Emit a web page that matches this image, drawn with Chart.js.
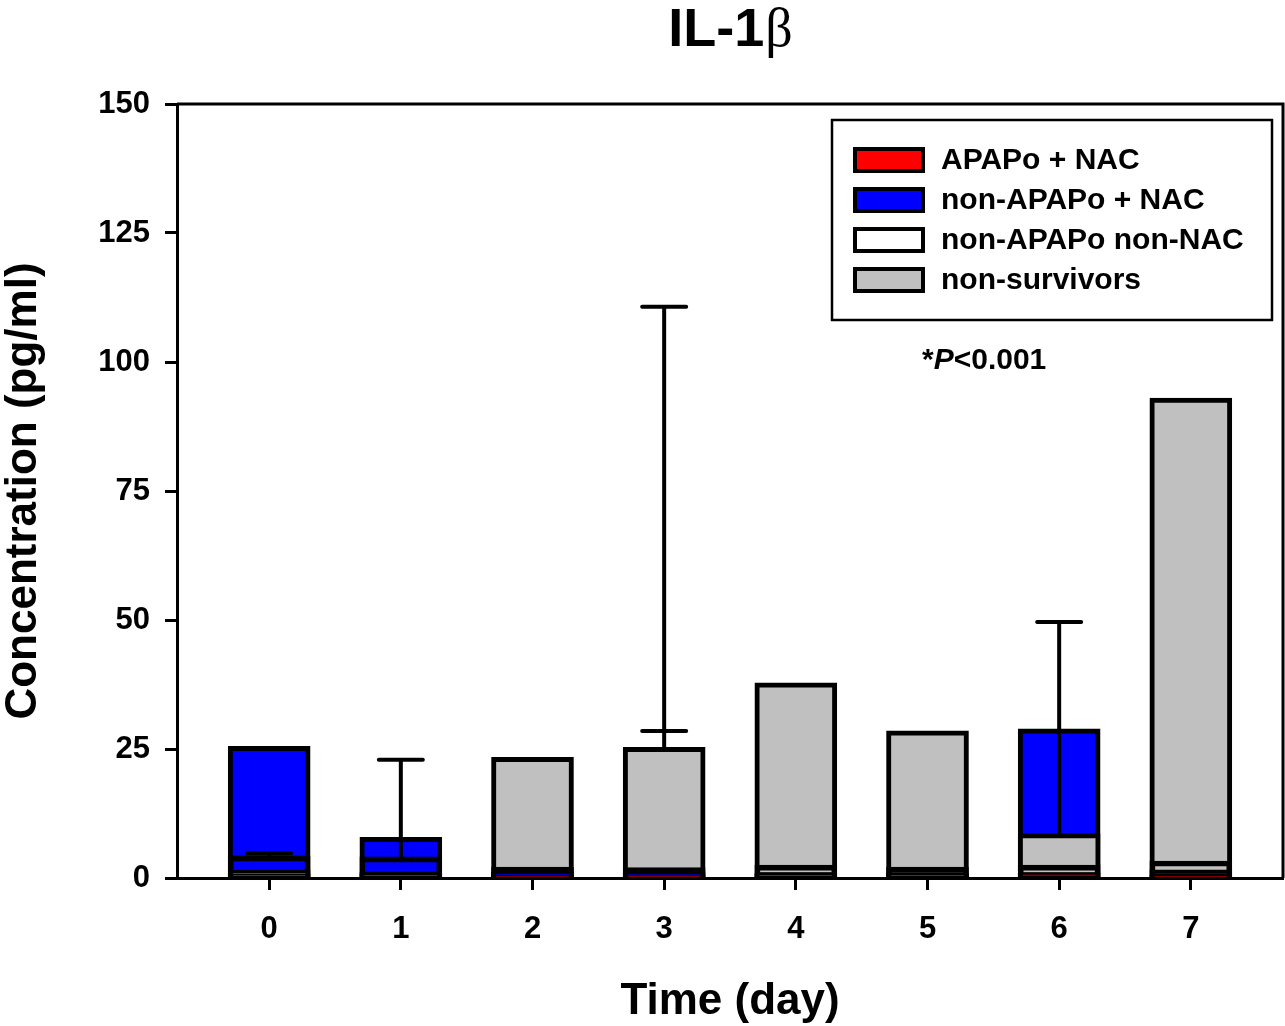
<!DOCTYPE html>
<html>
<head>
<meta charset="utf-8">
<script src="https://cdn.jsdelivr.net/npm/chart.js@4.4.1/dist/chart.umd.min.js"></script>
<style>
  html, body { margin: 0; padding: 0; background: #fff; }
  canvas { display: block; }
</style>
</head>
<body>
<canvas id="chart" width="1285" height="1026"></canvas>
<script>
// data
const days = [0, 1, 2, 3, 4, 5, 6, 7];
const apapNac = [0.8, 0.8, 0.5, 0.6, 0.8, 0.8, 1.0, 0.5];
const nonApapNac = [25.5, 7.9, 1.2, 1.2, 1.0, 1.0, 28.9, 1.6];
const nonApapNonNac = [4.3, 4.1, 2.1, 2.0, 2.5, 2.1, 2.5, 3.3];
const nonSurvivors = [1.5, 1.2, 23.4, 25.3, 37.8, 28.5, 8.6, 93.0];

// upper ends of the error bars (null = none)
const apapNacErr = [null, null, null, null, null, null, null, null];
const nonApapNacErr = [null, null, null, null, null, null, null, null];
const nonApapNonNacErr = [4.8, 22.9, null, null, null, null, null, null];
const nonSurvivorsErr = [null, null, null, [28.5, 110.7], null, null, 49.6, null];

const yTicks = [0, 25, 50, 75, 100, 125, 150];

const FONT = '"Liberation Sans", Arial, Helvetica, sans-serif';

const series = [
  {label: 'APAPo + NAC', values: apapNac, err: apapNacErr, fill: '#ff0000', swatch: '#ff0000'},
  {label: 'non-APAPo + NAC', values: nonApapNac, err: nonApapNacErr, fill: '#0000ff', swatch: '#0000ff'},
  {label: 'non-APAPo non-NAC', values: nonApapNonNac, err: nonApapNonNacErr, fill: 'rgba(255,255,255,0)', swatch: '#ffffff'},
  {label: 'non-survivors', values: nonSurvivors, err: nonSurvivorsErr, fill: '#c0c0c0', swatch: '#c0c0c0'}
];

// overlapping bars: per day the tallest goes in the back
const ranks = days.map((d, i) =>
  series.map((s, k) => k).sort((a, b) => series[b].values[i] - series[a].values[i]));

const layers = series.map((_, layer) => ({
  label: 'layer' + layer,
  order: series.length - 1 - layer,
  data: days.map((d, i) => ({x: d, y: series[ranks[i][layer]].values[i]})),
  backgroundColor: days.map((d, i) => series[ranks[i][layer]].fill),
  errTops: days.map((d, i) => series[ranks[i][layer]].err[i]),
  borderColor: '#000',
  borderWidth: 5,
  borderSkipped: false,
  grouped: false,
  barThickness: 82
}));

// error bars, drawn right after each layer
const errorBars = {
  id: 'errorBars',
  afterDatasetDraw(chart, args) {
    const ds = chart.data.datasets[args.index];
    const yScale = chart.scales.y;
    const ctx = chart.ctx;
    ctx.save();
    ctx.strokeStyle = '#000';
    ctx.lineWidth = 4;
    ctx.lineCap = 'round';
    args.meta.data.forEach((bar, i) => {
      const tops = ds.errTops[i];
      if (tops == null) return;
      const list = [].concat(tops);
      const yEnd = yScale.getPixelForValue(Math.max(...list));
      ctx.beginPath();
      ctx.moveTo(bar.x, bar.y);
      ctx.lineTo(bar.x, yEnd);
      list.forEach(v => {
        const yc = yScale.getPixelForValue(v);
        ctx.moveTo(bar.x - 22, yc);
        ctx.lineTo(bar.x + 22, yc);
      });
      ctx.stroke();
    });
    ctx.restore();
  }
};

// frame, title, legend box and note
const decorations = {
  id: 'decorations',
  afterDraw(chart) {
    const ctx = chart.ctx;
    const ca = chart.chartArea;
    ctx.save();
    ctx.strokeStyle = '#000';
    ctx.lineWidth = 3;
    ctx.beginPath();
    ctx.moveTo(ca.left, ca.top);
    ctx.lineTo(ca.right, ca.top);
    ctx.lineTo(ca.right, ca.bottom);
    ctx.stroke();

    // title
    const cx = (ca.left + ca.right) / 2;
    ctx.fillStyle = '#000';
    ctx.textBaseline = 'alphabetic';
    ctx.font = 'bold 54px ' + FONT;
    const t1 = 'IL-1';
    const w1 = ctx.measureText(t1).width;
    ctx.font = '54px "Liberation Serif", "Times New Roman", serif';
    const w2 = ctx.measureText('\u03B2').width;
    let x0 = cx - (w1 + w2) / 2;
    ctx.font = 'bold 54px ' + FONT;
    ctx.textAlign = 'left';
    ctx.fillText(t1, x0, 46);
    ctx.font = '54px "Liberation Serif", "Times New Roman", serif';
    ctx.fillText('\u03B2', x0 + w1 + 1, 46);

    // legend
    const bx = ca.right - 451, by = ca.top + 16;
    ctx.lineWidth = 2.5;
    ctx.strokeRect(bx, by, 440, 200);
    ctx.font = 'bold 30px ' + FONT;
    ctx.textBaseline = 'middle';
    series.forEach((s, k) => {
      const ry = by + 40 + k * 40;
      ctx.fillStyle = s.swatch;
      ctx.lineWidth = 4;
      ctx.beginPath();
      ctx.rect(bx + 23, ry - 11, 68, 22);
      ctx.fill();
      ctx.stroke();
      ctx.fillStyle = '#000';
      ctx.fillText(s.label, bx + 109, ry + 1);
    });

    // p-value note
    let nx = bx + 90;
    const ny = ca.top + 257;
    ctx.font = 'bold 30px ' + FONT;
    ctx.fillText('*', nx, ny);
    nx += ctx.measureText('*').width;
    ctx.font = 'italic bold 30px ' + FONT;
    ctx.fillText('P', nx, ny);
    nx += ctx.measureText('P').width;
    ctx.font = 'bold 30px ' + FONT;
    ctx.fillText('<0.001', nx, ny);
    ctx.restore();
  }
};

const ctx = document.getElementById('chart');
new Chart(ctx, {
  type: 'bar',
  data: {datasets: layers},
  options: {
    responsive: false,
    animation: false,
    layout: {padding: {top: 104, right: 2, left: 0, bottom: 0}},
    plugins: {
      legend: {display: false},
      title: {display: false},
      tooltip: {enabled: false}
    },
    scales: {
      x: {
        type: 'linear',
        min: -0.7,
        max: 7.7,
        offset: false,
        afterBuildTicks: (scale) => { scale.ticks = days.map(v => ({value: v})); },
        afterFit: (scale) => { scale.height = 148; },
        grid: {offset: false, drawOnChartArea: false, tickLength: 12, tickWidth: 3, tickColor: '#000'},
        border: {display: true, color: '#000', width: 3},
        ticks: {
          color: '#000',
          padding: 21,
          maxRotation: 0,
          font: {family: FONT, size: 31, weight: 'bold'}
        },
        title: {
          display: true,
          text: 'Time (day)',
          color: '#000',
          padding: {top: 0, bottom: 2},
          font: {family: FONT, size: 44, weight: 'bold', lineHeight: 1}
        }
      },
      y: {
        min: 0,
        max: 150,
        afterBuildTicks: (scale) => { scale.ticks = yTicks.map(v => ({value: v})); },
        afterFit: (scale) => { scale.width = 177; },
        grid: {drawOnChartArea: false, tickLength: 12, tickWidth: 3, tickColor: '#000'},
        border: {display: true, color: '#000', width: 3},
        ticks: {
          color: '#000',
          padding: 15,
          font: {family: FONT, size: 31, weight: 'bold'}
        },
        title: {
          display: true,
          text: 'Concentration (pg/ml)',
          color: '#000',
          padding: {top: 2, bottom: 0},
          font: {family: FONT, size: 44, weight: 'bold', lineHeight: 1}
        }
      }
    }
  },
  plugins: [errorBars, decorations]
});
</script>
</body>
</html>
